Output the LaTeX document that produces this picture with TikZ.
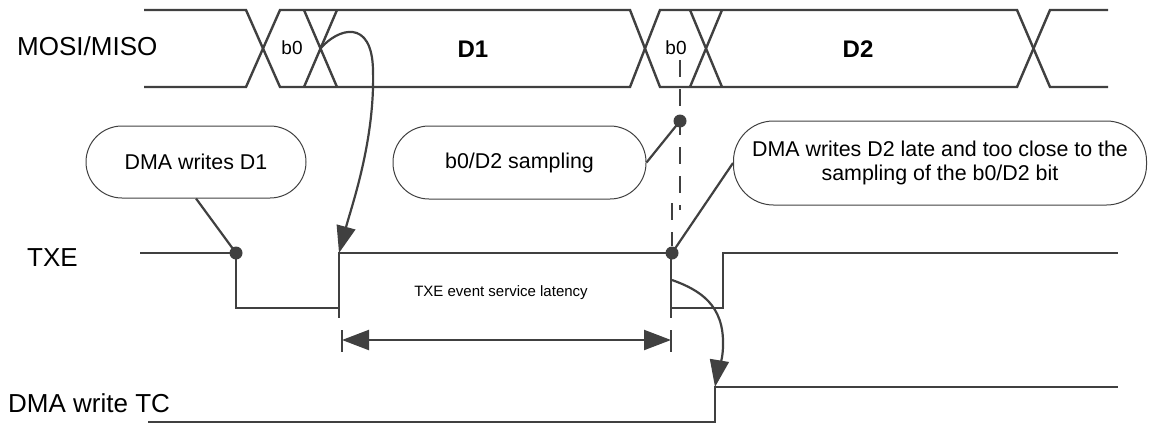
\documentclass[tikz,border=0pt]{standalone}
\usepackage{fontspec}
\setmainfont{Liberation Sans}
\usetikzlibrary{arrows.meta}
\definecolor{lc}{HTML}{404040}
\begin{document}
\begin{tikzpicture}[x=1pt,y=-1pt,
  sig/.style={line width=2.4pt,draw=lc},
  conn/.style={line width=2.2pt,draw=lc},
  tipend/.style={-{Triangle[length=27pt,width=19pt]}},
  bubble/.style={draw=lc,line width=1pt,align=center,font=\fontsize{21.4}{24}\selectfont,inner sep=0pt},
  lbl/.style={font=\fontsize{26}{30}\selectfont,anchor=west,inner sep=0pt},
  dotn/.style={circle,fill=lc,inner sep=0pt,minimum size=13pt}]
\useasboundingbox (0,0) rectangle (1150,444);

% labels
\node[lbl] (lmosi) at (17,46) {MOSI/MISO};
\node[lbl] (ltxe) at (27,258) {TXE};
\node[lbl] (ltc) at (8,403) {DMA write TC};

% bus
\draw[sig] (144,10) -- (246,10) -- (280,87) -- (630,87) -- (660,10) -- (1017,10) -- (1050,87) -- (1108,87);
\draw[sig] (144,87) -- (246,87) -- (280,10) -- (630,10) -- (660,87) -- (1017,87) -- (1050,10) -- (1108,10);
\draw[sig] (304,10) -- (337,87) (304,87) -- (337,10);
\draw[sig] (690,10) -- (722,87) (690,87) -- (722,10);
\node[font=\fontsize{19}{22}\selectfont] (b0a) at (292,48) {b0};
\node[font=\fontsize{19}{22}\selectfont] (b0b) at (676,48) {b0};
\node[font=\bfseries\fontsize{24}{28}\selectfont] (dd1) at (473,49) {D1};
\node[font=\bfseries\fontsize{24}{28}\selectfont] (dd2) at (858,49) {D2};

% TXE signal
\draw[sig] (140,253) -- (236,253) -- (236,308) -- (339,308) -- (339,253) -- (671,253) -- (671,308) -- (723,308) -- (723,253) -- (1118,253);
\draw[sig] (339,308) -- (339,318) (671,308) -- (671,318);

% DMA write TC signal
\draw[sig] (148,422) -- (715,422) -- (715,387) -- (1118,387);

% latency dimension
\coordinate (la) at (342,340);
\coordinate (lb) at (671,340);
\draw[sig] (342,330) -- (342,352) (671,330) -- (671,352);
\draw[conn,{Triangle[length=27pt,width=20pt]}-{Triangle[length=27pt,width=20pt]}] (la) -- (lb);
\node[font=\fontsize{15}{18}\selectfont] (llat) at (501,293) {TXE event service latency};

% bubbles
\node[bubble,minimum width=220pt,minimum height=72pt,rounded corners=36pt] (b1) at (196,162) {DMA writes D1};
\node[bubble,minimum width=253pt,minimum height=73pt,rounded corners=36pt] (b2) at (519.5,162.5) {b0/D2 sampling};
\node[bubble,minimum width=413pt,minimum height=84pt,rounded corners=40pt] (b3) at (940,163) {DMA writes D2 late and too close to the\\sampling of the b0/D2 bit};

% sampling dashed line
\coordinate (sa) at (680,60);
\coordinate (sb) at (680,210);
\coordinate (sc) at (672,203);
\draw[conn,dash pattern=on 17pt off 12pt] (sa) -- (sb);

% dots
\node[dotn] (d1) at (236,253) {};
\node[dotn] (d2) at (680,121) {};
\node[dotn] (d3) at (672,253) {};
\draw[conn,dash pattern=on 17pt off 12pt] (sc) -- (d3);

% bubble connectors
\draw[conn] (b1.south) -- (d1.center);
\draw[conn] (b2.east) -- (d2.center);
\draw[conn] (b3.west) -- (d3.center);

% curved arrows
\coordinate (x1) at (320.5,48.5);
\coordinate (t1) at (339,253);
\draw[conn,tipend] (x1) .. controls (338,28) and (372,18) .. (373,70) .. controls (375,140) and (352,205) .. (t1);
\coordinate (x2) at (672,280);
\coordinate (t2) at (715,387);
\draw[conn,tipend] (x2) .. controls (700,290) and (724,305) .. (723,345) .. controls (723,362) and (717,375) .. (t2);
\end{tikzpicture}
\end{document}
